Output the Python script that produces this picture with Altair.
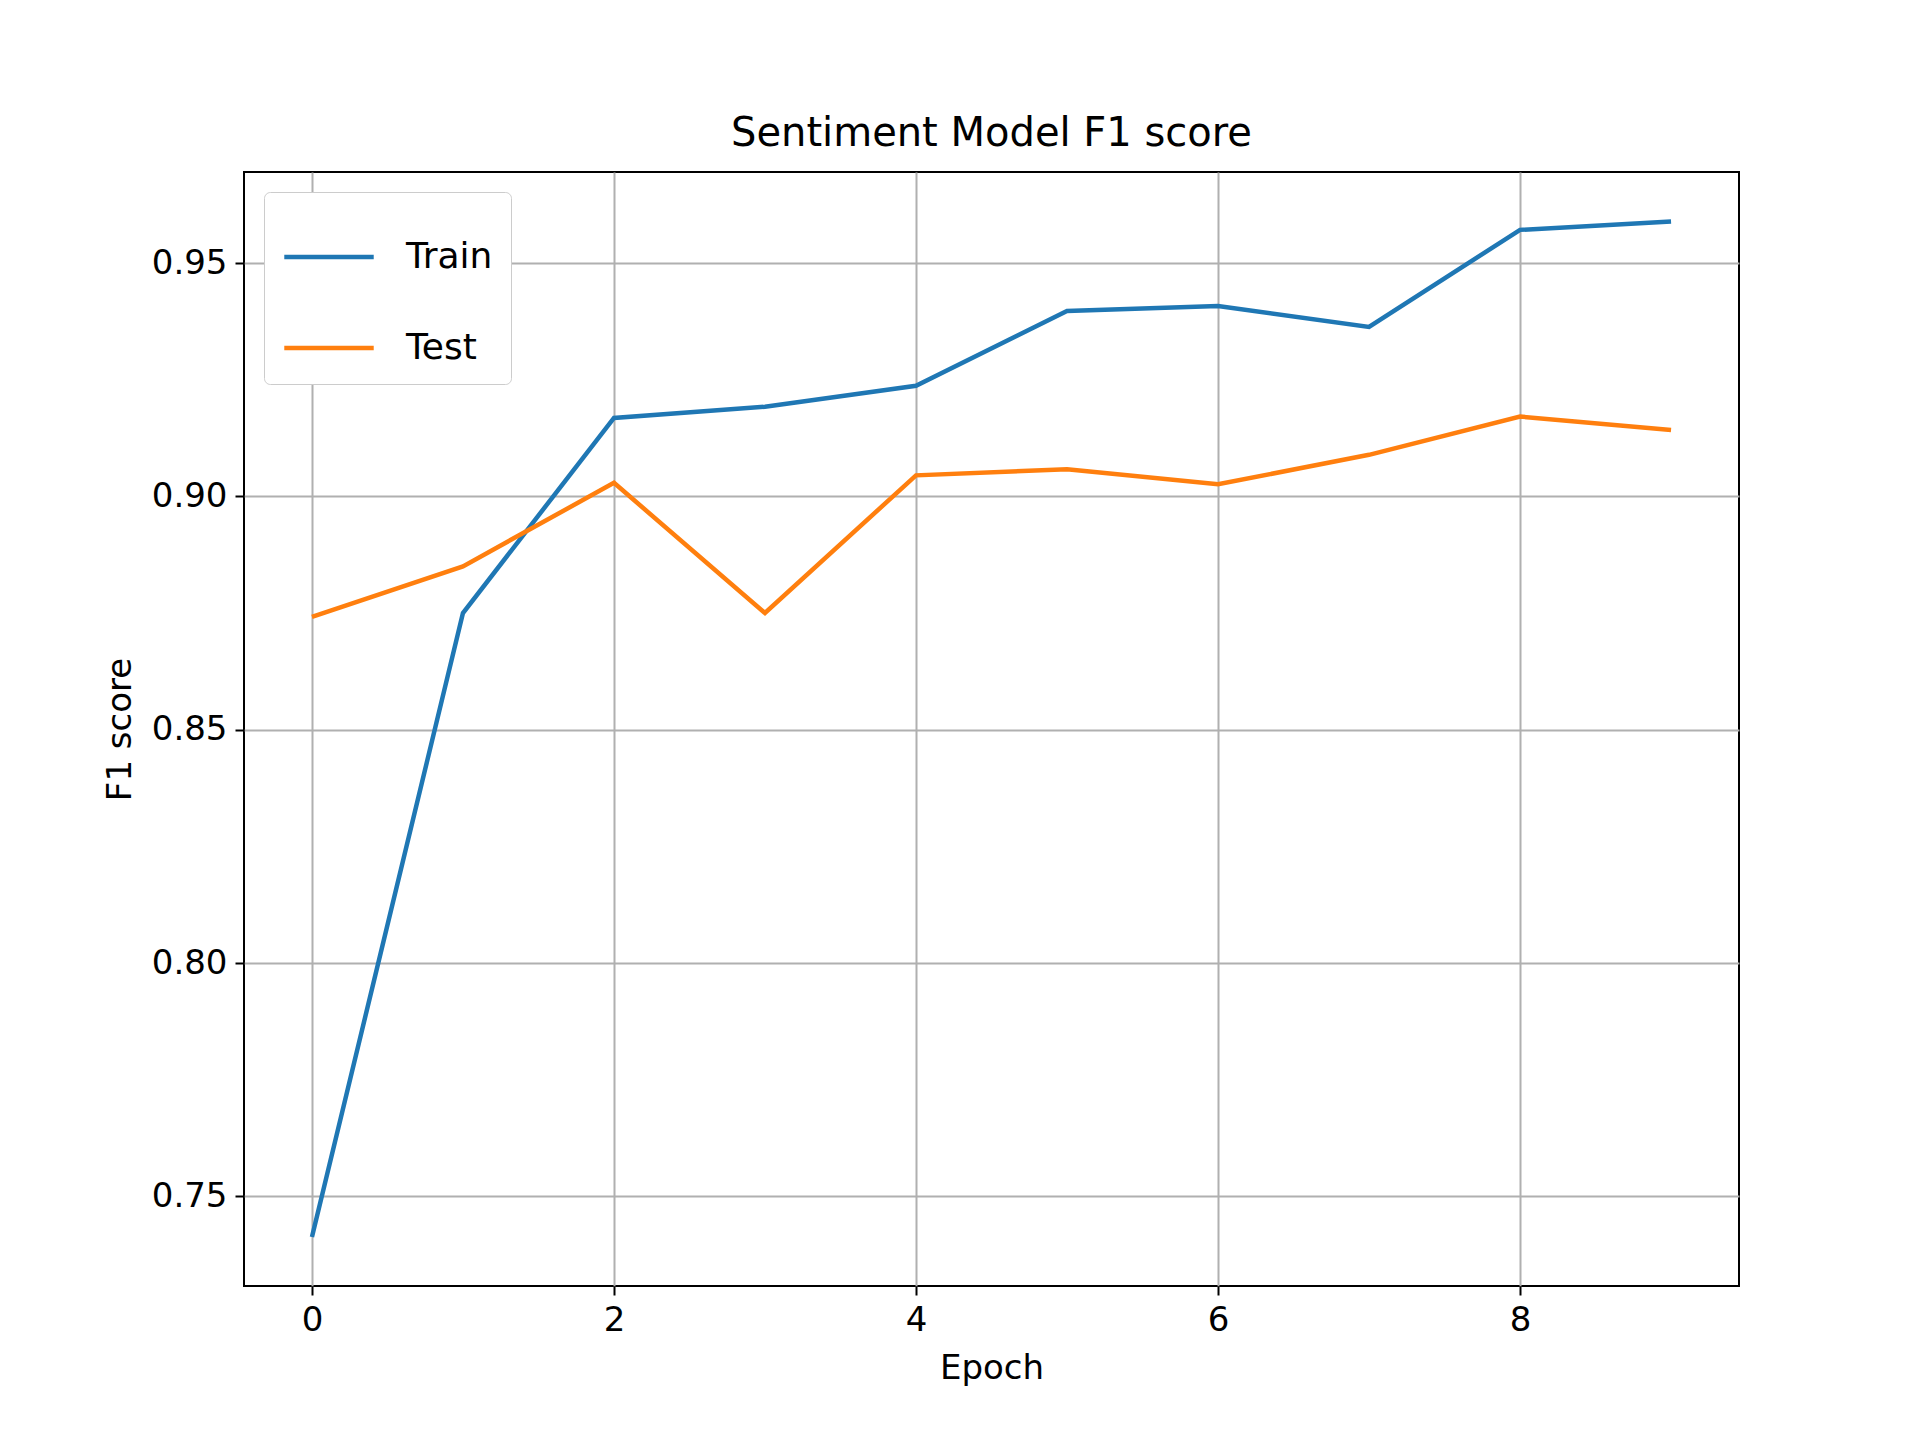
import altair as alt
import pandas as pd

epochs = list(range(10))
train_f1 = [0.7413, 0.875, 0.9168, 0.9192, 0.9237, 0.9397, 0.9408, 0.9363, 0.9571, 0.9589]
test_f1 = [0.8742, 0.885, 0.9029, 0.875, 0.9045, 0.9058, 0.9026, 0.9089, 0.9171, 0.9142]

df = pd.concat([
    pd.DataFrame({"Epoch": epochs, "F1": train_f1, "Series": "Train"}),
    pd.DataFrame({"Epoch": epochs, "F1": test_f1, "Series": "Test"}),
])

font = "DejaVu Sans"

chart = alt.Chart(df).mark_line(strokeWidth=4.5, clip=True).encode(
    x=alt.X("Epoch:Q", title="Epoch",
            scale=alt.Scale(domain=[-0.45, 9.45], nice=False, zero=False),
            axis=alt.Axis(values=[0, 2, 4, 6, 8], format="d")),
    y=alt.Y("F1:Q", title="F1 score",
            scale=alt.Scale(domain=[0.7308, 0.9695], nice=False, zero=False),
            axis=alt.Axis(values=[0.75, 0.80, 0.85, 0.90, 0.95], format=".2f")),
    color=alt.Color("Series:N", sort=["Train", "Test"],
                    scale=alt.Scale(domain=["Train", "Test"], range=["#1f77b4", "#ff7f0e"]),
                    legend=alt.Legend(title=None, orient="top-left", offset=20,
                                      symbolType="stroke", symbolSize=8000, symbolStrokeWidth=4.5,
                                      labelFontSize=36, labelFont=font, labelOffset=30,
                                      rowPadding=26, padding=18, strokeColor="#cccccc",
                                      fillColor="white", cornerRadius=6)),
).properties(
    width=1495, height=1114,
    title=alt.TitleParams("Sentiment Model F1 score", fontSize=40, font=font,
                          fontWeight="normal", offset=18),
    padding={"left": 95, "top": 106, "right": 120, "bottom": 40},
).configure_view(
    stroke="black", strokeWidth=2
).configure_axis(
    grid=True, gridColor="#b0b0b0", gridWidth=2,
    domain=False, tickColor="black", tickWidth=2, tickSize=9,
    labelFontSize=34, labelFont=font, labelColor="black", labelPadding=8,
    titleFontSize=34, titleFont=font, titleFontWeight="normal", titleColor="black",
    titlePadding=14,
)

chart.save("out.html", embed_options={"renderer": "svg", "actions": False})
